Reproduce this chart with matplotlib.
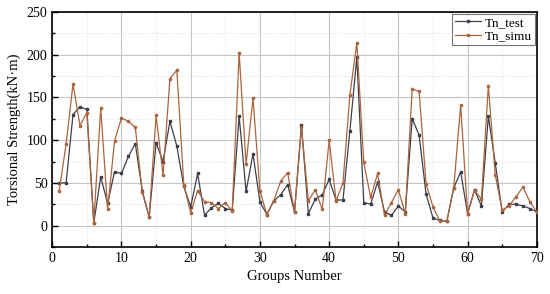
import matplotlib
matplotlib.use('Agg')
import matplotlib.pyplot as plt
from matplotlib.ticker import MultipleLocator

plt.rcParams['font.family'] = ['Liberation Serif', 'DejaVu Serif']

groups = list(range(1, 71))
tn_test = [50, 50, 130, 139, 136, 3, 57, 26, 63, 61,
           81, 96, 41, 10, 97, 75, 122, 93, 46, 22,
           61, 12, 21, 26, 20, 18, 128, 40, 84, 28,
           13, 29, 36, 48, 16, 118, 14, 31, 36, 54,
           30, 30, 111, 197, 27, 25, 51, 16, 12, 23,
           16, 125, 106, 37, 9, 6, 5, 44, 63, 14,
           42, 23, 128, 73, 16, 25, 25, 23, 20, 16]
tn_simu = [41, 95, 166, 117, 132, 3, 138, 19, 99, 126,
           122, 115, 39, 10, 129, 59, 172, 182, 48, 15,
           41, 28, 27, 20, 27, 17, 202, 72, 149, 41,
           13, 29, 52, 62, 16, 115, 29, 42, 19, 100,
           29, 50, 153, 214, 74, 33, 61, 12, 27, 42,
           14, 160, 157, 49, 22, 5, 5, 44, 141, 14,
           41, 31, 164, 59, 18, 23, 34, 45, 28, 16]

fig = plt.figure(figsize=(5.5, 2.94), dpi=100)
ax = fig.add_axes([0.095, 0.16, 0.881, 0.799])

ax.plot(groups, tn_test, color='#3f3f4c', lw=0.9, marker='s', ms=1.6, label='Tn_test', zorder=3)
ax.plot(groups, tn_simu, color='#ab653f', lw=0.9, marker='o', ms=1.6, label='Tn_simu', zorder=3)

ax.set_xlim(0, 70)
ax.set_ylim(-25, 250)
ax.xaxis.set_major_locator(MultipleLocator(10))
ax.xaxis.set_minor_locator(MultipleLocator(5))
ax.yaxis.set_major_locator(MultipleLocator(50))
ax.yaxis.set_minor_locator(MultipleLocator(25))
ax.tick_params(which='both', direction='in', labelsize=10, width=1.0)
ax.tick_params(which='major', length=4)
ax.tick_params(which='minor', length=2)
for s in ax.spines.values():
    s.set_linewidth(1.2)
    s.set_color('black')
ax.grid(which='major', color='#c4c4c4', lw=0.8)
ax.grid(which='minor', color='#d8d8d8', lw=0.6, ls=':')
ax.set_axisbelow(True)

ax.set_xlabel('Groups Number', fontsize=10.5)
ax.set_ylabel('Torsional Strength(kN·m)', fontsize=10.5)

leg = ax.legend(loc='upper right', fontsize=9.5, fancybox=False, edgecolor='#555555',
                borderaxespad=0.15, handlelength=2.0, handletextpad=0.3,
                borderpad=0.2, labelspacing=0.1)
leg.get_frame().set_linewidth(0.8)

fig.savefig('out.png', dpi=100)
